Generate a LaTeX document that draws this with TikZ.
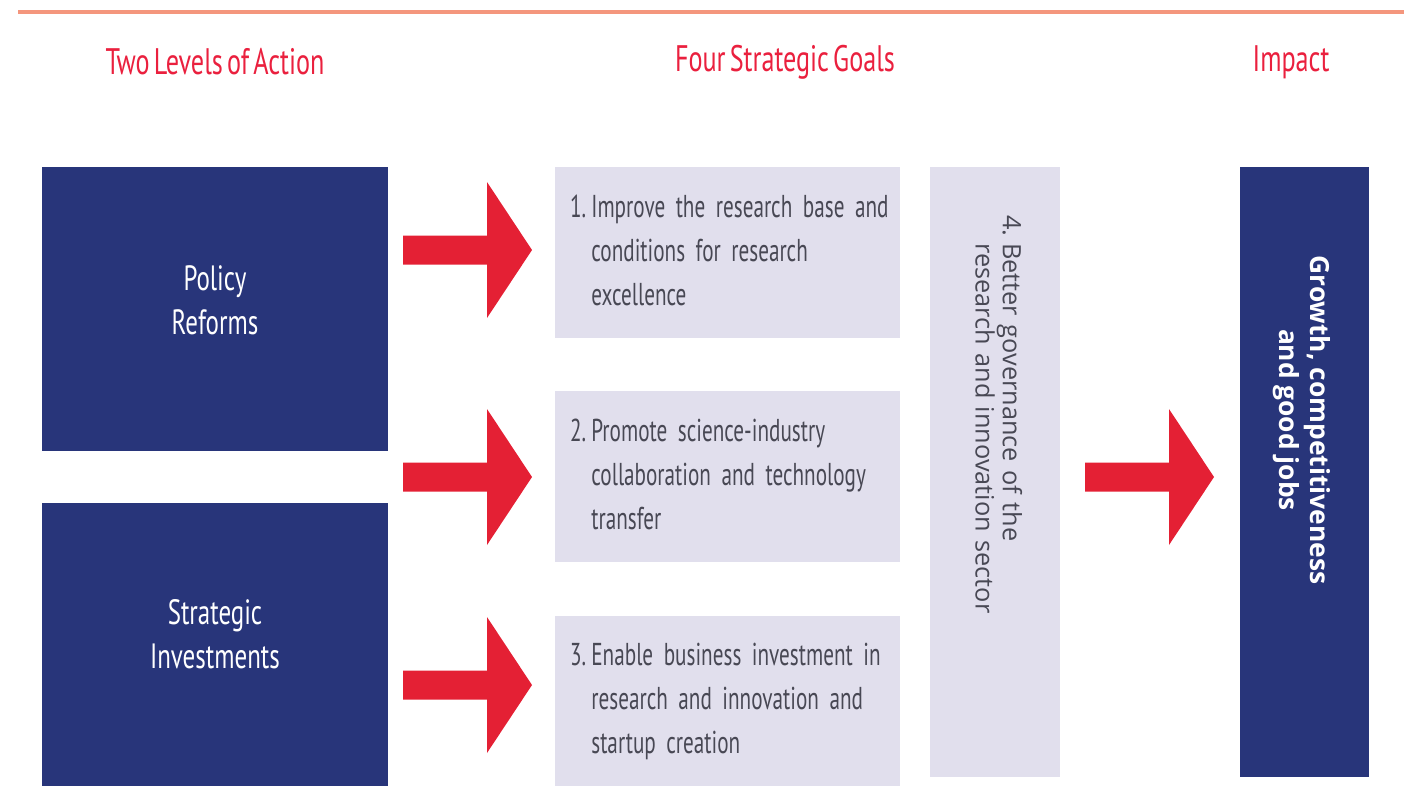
\documentclass[tikz,border=0pt]{standalone}
\usepackage{fontspec}
\setmainfont{PT Sans}[FakeStretch=0.71, WordSpace=0.6]
\newfontfamily\narrowfont{PT Sans}[FakeStretch=0.67, WordSpace=0.5]
\newfontfamily\opensans{Open Sans}
\usepackage{xcolor}
\usetikzlibrary{positioning}
\definecolor{navy}{RGB}{40,53,122}
\definecolor{lilac}{RGB}{225,223,237}
\definecolor{arrowred}{RGB}{228,32,52}
\definecolor{headred}{RGB}{234,32,62}
\definecolor{salmon}{RGB}{244,150,125}
\definecolor{goaltext}{RGB}{72,72,84}

\begin{document}
\begin{tikzpicture}[x=0.02cm, y=-0.02cm, font=\fontsize{18}{25}\selectfont,
    lvl/.style={fill=navy, minimum width=6.92cm, minimum height=5.68cm, inner sep=0},
    lvltext/.style={text=white, align=center, font=\fontsize{20}{25}\selectfont},
    goal/.style={fill=lilac, text=goaltext, minimum width=6.9cm, minimum height=3.42cm, inner xsep=0.3cm, text width=6.3cm, align=left,
      font=\narrowfont\fontsize{18}{25}\selectfont},
    tall/.style={rotate=-90, minimum width=12.2cm, minimum height=2.6cm, inner ysep=0},
    head/.style={text=headred, font=\fontsize{21}{24}\selectfont},
    redarrow/.pic={\fill[arrowred] (0,-14.5) -- (84,-14.5) -- (84,-68) -- (129,0) -- (84,68) -- (84,14.5) -- (0,14.5) -- cycle;}]
    \useasboundingbox (0,0) rectangle (1404,799);
    \draw[salmon, line width=2.2pt] (18,12) -- (1404,12);
    % column titles
    \node[head] (h1) at (215,62) {Two Levels of Action};
    \node[head] (h2) at (785,62) {Four Strategic Goals};
    \node[head] (h3) at (1291,62) {Impact};
    % levels of action
    \node[lvl] (pol) at (215,309) {};
    \node[lvltext] (polt) at ([yshift=0.18cm]pol.center) {Policy\\Reforms};
    \node[lvl, minimum height=5.66cm] (inv) at (215,644.5) {};
    \node[lvltext] (invt) at ([yshift=0.2cm]inv.center) {Strategic\\Investments};
    % goals
    \node[goal] (g1) at (727.5,252.5) {\begin{tabular}{@{}l@{\hspace{3pt}}l@{}}1. & Improve the research base and\\ & conditions for research\\ & excellence\end{tabular}};
    \node[goal] (g2) at (727.5,476.5) {\begin{tabular}{@{}l@{\hspace{3pt}}l@{}}2. & Promote science-industry\\ & collaboration and technology\\ & transfer\end{tabular}};
    \node[goal] (g3) at (727.5,701) {\begin{tabular}{@{}l@{\hspace{3pt}}l@{}}3. & Enable business investment in\\ & research and innovation and\\ & startup creation\end{tabular}};
    \node[tall, fill=lilac, text=goaltext, inner xsep=0.96cm, text width=10.28cm, align=left,
      font=\opensans\fontsize{14.4}{16.5}\selectfont] (g4) at (995,472)
      {\begin{tabular}{@{}l@{\hspace{4pt}}l@{}}4. & Better governance of the\\[-1pt] & research and innovation sector\end{tabular}};
    % impact
    \node[tall, fill=navy] (imp) at (1304.5,472) {};
    \node[rotate=-90, text=white, align=center, font=\opensans\bfseries\fontsize{15}{17.5}\selectfont]
      (impt) at (1302,420) {Growth, competitiveness\\and good jobs};
    % block arrows
    \pic at (403,250) {redarrow};
    \pic at (403,477) {redarrow};
    \pic at (403,685) {redarrow};
    \pic at (1085,477) {redarrow};
\end{tikzpicture}
\end{document}
